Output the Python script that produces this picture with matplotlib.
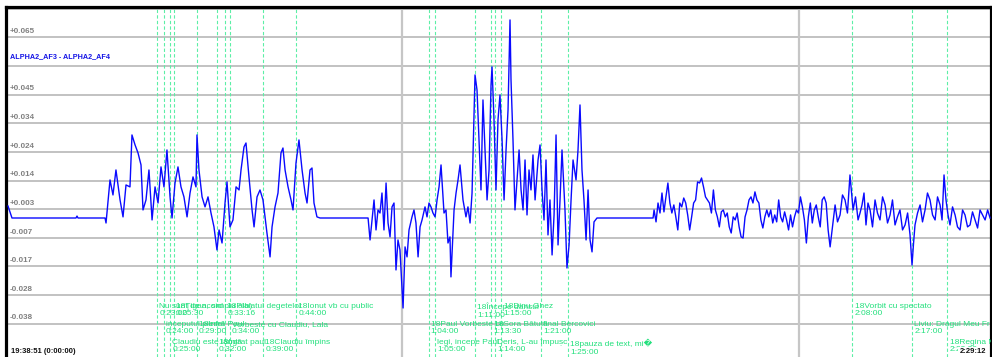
import numpy as np
import matplotlib.pyplot as plt

plt.rcParams['font.family'] = ['Liberation Sans', 'DejaVu Sans']

channel = "ALPHA2_AF3 - ALPHA2_AF4"
start_clock = "19:38:51 (0:00:00)"
end_clock = "2:29:12"
t_end = 8931          # right edge of the view, s

# trace: time in s since start, value in units of 1e-3
t_quiet = [30, 66, 646, 655, 664, 909, 5874]
v_quiet = [4.5, 0.2, 0.2, 0.9, 0.2, 0.2, 0.2]

t_a = [918, 954, 981, 1008, 1045, 1072, 1099, 1135, 1153, 1181, 1208, 1235, 1253, 1280, 1307, 1335, 1362, 1389, 1416, 1443,
       1470, 1498, 1516, 1543, 1570, 1597, 1624, 1652, 1679, 1706, 1733, 1742, 1760, 1788, 1815, 1842, 1869, 1896, 1923, 1942,
       1969, 1996, 2014, 2041, 2068, 2096, 2123, 2141, 2168, 2186, 2213, 2241, 2259, 2286, 2313, 2340, 2358, 2376, 2404, 2422,
       2449, 2476, 2503, 2521, 2540, 2567, 2594, 2612, 2639, 2666, 2694, 2721, 2739, 2766, 2784, 2802, 2829, 2857]
v_a = [-1.6, 13.9, 8.5, 17.5, 6.7, 0.6, 12.1, 11.4, 30.1, 26.5, 23.6, 19.3, 3.1, 6.7, 17.5, -0.5, 11.4, 5.6, 18.6, 11.4,
       24.7, 7.8, 0.2, 12.8, 18.6, 11.4, 7.8, 0.6, 9.2, 15.0, 11.4, 30.1, 17.5, 7.8, 4.2, 7.8, 2.0, -3.0, -11.3, -4.1,
       -8.8, 5.6, 13.2, -3.0, -0.5, 11.4, 10.3, 17.5, 25.8, 27.2, 15.0, 3.1, -3.0, 7.8, 10.3, 6.7, 0.6, -5.2, -13.8, -3.0,
       4.2, 9.2, 23.6, 25.4, 17.5, 11.4, 6.7, 3.1, 20.0, 28.3, 17.5, 9.2, 5.6, 17.5, 18.2, 5.6, 0.6, 0.2]

t_b = [3292, 3310, 3328, 3346, 3364, 3382, 3400, 3418, 3436, 3455, 3473, 3491, 3509, 3527, 3545, 3563, 3581, 3600, 3609, 3627,
       3645, 3663, 3690, 3708, 3726, 3745, 3763, 3781, 3808, 3826, 3844, 3862, 3880, 3899, 3917, 3935, 3953, 3980, 3998, 4016,
       4034, 4043, 4071, 4089, 4107, 4125, 4152, 4179, 4197, 4216, 4234, 4261, 4279, 4297, 4315, 4333, 4352, 4370, 4388, 4406,
       4415, 4433, 4451, 4469, 4487, 4506, 4524, 4542, 4560, 4578, 4587, 4605, 4623, 4641, 4660, 4678, 4696, 4714, 4732, 4750,
       4768, 4786, 4805, 4832, 4850, 4868, 4886, 4904, 4922, 4940, 4959, 4977, 4995, 5013, 5031, 5049, 5076, 5094, 5113, 5131,
       5149, 5176, 5194, 5212, 5230, 5248, 5267, 5285, 5303, 5321, 5339, 5366]
v_b = [0.2, -7.7, -0.5, 6.7, -4.1, 3.1, 2.0, 9.2, -4.1, 12.8, -1.6, -6.6, 4.2, 5.6, -18.5, -7.7, -11.3, -25.7, -32.2, -10.2,
       -13.8, -4.1, 0.6, 3.1, -1.6, -13.8, -3.0, -0.5, 4.2, 0.6, 5.6, 4.2, 2.0, 0.6, 6.7, 11.4, 19.3, 2.0, 3.1, -8.8,
       -6.6, -21.0, 3.1, 9.2, 13.9, 19.3, 6.7, 0.6, 4.2, -1.6, 9.2, 51.7, 46.3, 28.3, 10.3, 42.7, 24.7, 6.7, 17.5, 48.1,
       54.6, 35.5, 10.3, 35.5, 44.5, 28.3, 6.7, 24.7, 39.1, 71.5, 49.9, 28.3, 3.1, 13.9, 24.7, 10.3, 3.1, 21.1, 1.3, 17.5,
       10.3, 22.9, 6.7, 21.1, 26.5, 10.3, -0.5, 21.1, -5.9, 6.7, -13.1, 1.3, 30.1, -9.5, 6.7, 24.7, 3.1, -17.8, -9.5, 6.7,
       21.1, 13.9, 24.7, 40.9, 17.5, 6.7, -7.7, 10.3, -7.7, -12.0, -1.2, 0.2]

# third burst, one sample every 17.92 s from 5883 s
t_c0, dt_c = 5883, 17.92
v_c = [3.1, -1.2, 5.6, 2.0, 9.2, 2.4, 7.8, 12.8, 5.6, 2.0, 4.9, 0.6, -4.1, 5.6, 4.2, 7.4, 5.6, 1.3, -4.1, 0.6,
       5.6, 6.7, 13.2, 12.8, 14.6, 11.4, 7.8, 6.7, 5.6, 2.0, 10.3, 3.1, 0.6, -3.0, 2.4, 3.1, 0.6, 2.0, -3.0, -5.2,
       0.6, -0.5, 2.0, -3.0, -6.6, -7.0, 0.6, 3.1, 6.7, 7.8, 5.6, 9.6, 6.7, 5.6, -0.5, -3.4, 0.6, 3.1, 0.6, 3.1,
       -1.6, 1.3, -1.2, 6.7, 0.6, -1.2, 2.4, -0.5, -4.1, 1.3, -3.0, 0.6, 3.1, 2.0, 7.8, 4.2, -0.5, -8.8, 0.6, 5.6,
       -1.6, 3.1, 4.9, 0.6, -3.0, 6.7, 7.8, 5.6, -4.1, -10.2]

t_d = [7523, 7545, 7568, 7590, 7613, 7635, 7658, 7672, 7686, 7708, 7731, 7749, 7767, 7785, 7803, 7821, 7840, 7862,
       7885, 7907, 7930, 7953, 7976, 7998, 8021, 8043, 8066, 8088, 8111, 8134, 8157, 8180, 8202, 8220, 8234, 8247,
       8270, 8293, 8315, 8338, 8360, 8383, 8406, 8429, 8451, 8474, 8492, 8510, 8528, 8546, 8564, 8587, 8610, 8632,
       8655, 8678, 8700, 8723, 8746, 8768, 8791, 8814, 8836, 8859, 8882, 8905, 8927]
v_d = [4.9, -1.2, 1.3, 8.5, 6.7, 2.0, 15.7, 9.2, 3.1, 7.8, -0.5, 2.0, 4.9, 9.2, -2.3, 5.6, 3.1, -3.0,
       6.7, 2.0, -0.5, 7.8, 4.9, -1.6, 1.3, 6.7, -2.3, 0.6, 3.1, -4.1, -2.3, 2.0, -5.9, -16.7, -8.8, -2.3,
       2.0, 4.9, -1.2, 3.1, 9.2, 6.7, 1.3, -0.5, 7.8, 4.9, -0.5, 15.7, 6.7, 1.3, -2.3, 4.2, 1.3, -3.0,
       -4.1, 3.1, 1.3, -3.0, -2.3, 2.4, -0.5, -3.4, 3.1, 1.3, -0.5, 3.1, 0.2]

# scale lines and their labels (None = row used for channel name / top edge)
grid_vals = [0.0755, 0.0652, 0.0549, 0.0446, 0.0343, 0.0240, 0.0137, 0.0034, -0.0069, -0.0172, -0.0276, -0.0378]
grid_lab = [None, "+0.065", None, "+0.045", "+0.034", "+0.024", "+0.014", "+0.003", "-0.007", "-0.017", "-0.028", "-0.038"]

hours = [3600, 7200]

# event markers
ev_t = [1380, 1440, 1500, 1530, 1740, 1920, 1996, 2040, 2340, 2640,
        3840, 3900, 4260, 4410, 4440, 4500, 4860, 5100, 7680, 8220, 8540]
ev_name = ["Nu sunt de acord", "inceputul piesei", "Claudiu este lângă", "18Ţigan, simplu alb)",
           "18Intră Paul", "18Intrat paul", "18Plaiatul degetelor", "Vorbeste cu Claudiu, Lala",
           "18Claudiu împins", "18Ionut vb cu public",
           "18Paul Vorbeste cu", "legi, incepe Paul", "18Începe dansul", "18Sora Bătută",
           "Deris, L-au împușc", "18Dinu Ghez", "final Bercovici", "18pauza de text, mi\ufffd",
           "18Vorbit cu spectato", "Liviu: Dragul Meu Fr", "18Regina Mama"]


def clock(s):
    return "%d:%02d:%02d" % (s // 3600, s % 3600 // 60, s % 60)


t_all = np.concatenate([t_quiet, t_a, t_b, t_c0 + dt_c * np.arange(len(v_c)), t_d])
v_all = np.concatenate([v_quiet, v_a, v_b, v_c, v_d]) * 1e-3
order = np.argsort(t_all)

fig = plt.figure(figsize=(9.92, 3.57), dpi=100)
ax = fig.add_axes([6 / 992, 0, 984.5 / 992, 350.5 / 357])
ax.set_xlim(11.8, t_end)
ax.set_ylim(-0.04984, 0.07634)

for v in grid_vals:
    ax.axhline(v, color='#b2b2b2', lw=1.1, zorder=1)
for h in hours:
    ax.axvline(h, color='#c6c6c6', lw=1.6, zorder=1)
for t in ev_t:
    ax.axvline(t, color='#5cefa6', lw=0.8, ls=(0, (3, 2)), zorder=2)

ax.plot(t_all[order], v_all[order], color='#0a0aff', lw=1.0, zorder=3)

ytr = ax.get_yaxis_transform()
for v, lab in zip(grid_vals, grid_lab):
    if lab:
        ax.annotate(lab, (0.004, v), xycoords=ytr, xytext=(0, 1.6), textcoords='offset points',
                    fontsize=5.8, fontweight='bold', color='#808080', va='bottom', ha='left')
ax.annotate(channel, (0.004, grid_vals[2]), xycoords=ytr, xytext=(0, 4), textcoords='offset points',
            fontsize=5.2, fontweight='bold', color='#1414e6', va='bottom', ha='left')

xtr = ax.get_xaxis_transform()
row_y = [0.1541, 0.1027, 0.0514]
for i, (t, name) in enumerate(zip(ev_t, ev_name)):
    ax.annotate(name + "\n" + clock(t), (t, row_y[i % 3]), xycoords=xtr, xytext=(1.6, 0),
                textcoords='offset points', fontsize=6, color='#22e07c', va='top', ha='left',
                linespacing=1.05, annotation_clip=False, clip_on=True, zorder=4)

ax.text(0.005, 0.0143, start_clock, transform=ax.transAxes, fontsize=5.5, fontweight='bold',
        color='#111111', va='center', ha='left', zorder=5)
ax.text(0.9954, 0.0143, end_clock, transform=ax.transAxes, fontsize=5.5, fontweight='bold',
        color='#111111', va='center', ha='right', zorder=5,
        bbox=dict(facecolor='white', edgecolor='none', pad=1.2))

ax.set_xticks([])
ax.set_yticks([])
for side in ['left', 'top', 'right']:
    ax.spines[side].set_linewidth(2.3)
    ax.spines[side].set_color('black')
ax.spines['bottom'].set_visible(False)

fig.savefig('out.png', dpi=100)
